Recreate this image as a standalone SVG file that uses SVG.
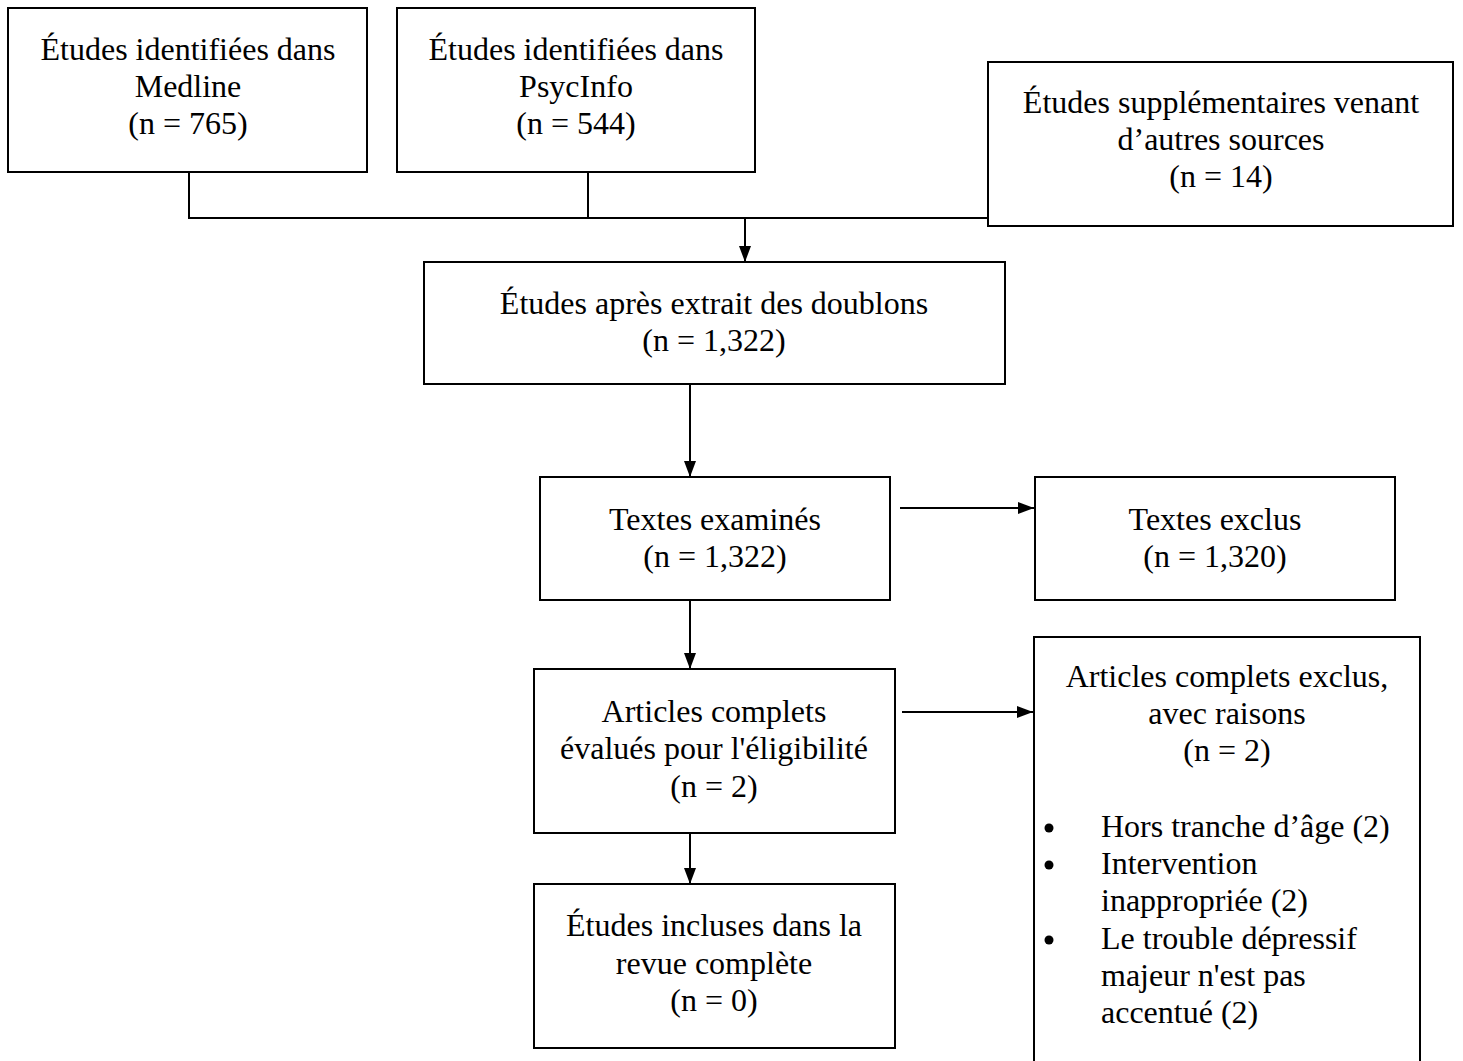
<svg xmlns="http://www.w3.org/2000/svg" width="1463" height="1061" viewBox="0 0 1463 1061">
<defs>
<marker id="ah" markerWidth="16" markerHeight="12" refX="16" refY="6" orient="auto" markerUnits="userSpaceOnUse">
<path d="M0,0 L16,6 L0,12 Z" fill="#000"/>
</marker>
<style>
.box{fill:#fff;stroke:#000;stroke-width:2}
.t{font-family:"Liberation Serif","Times New Roman",serif;font-size:32px;fill:#000;text-anchor:middle}
.tl{font-family:"Liberation Serif","Times New Roman",serif;font-size:32px;fill:#000}
.c{fill:none;stroke:#000;stroke-width:2}
.a{fill:none;stroke:#000;stroke-width:2;marker-end:url(#ah)}
</style>
</defs>
<rect width="1463" height="1061" fill="#fff"/>
<g id="connectors">
<polyline class="c" points="189,172 189,218 988,218"/>
<line class="c" x1="588" y1="172" x2="588" y2="218"/>
<line class="a" x1="745" y1="218" x2="745" y2="262"/>
<line class="a" x1="690" y1="384" x2="690" y2="477"/>
<line class="a" x1="900" y1="508" x2="1034" y2="508"/>
<line class="a" x1="690" y1="600" x2="690" y2="669"/>
<line class="a" x1="902" y1="712" x2="1033" y2="712"/>
<line class="a" x1="690" y1="826" x2="690" y2="884"/>
</g>
<g id="medline">
<rect class="box" x="8" y="8" width="359" height="164"/>
<text class="t" x="188" y="60">Études identifiées dans</text>
<text class="t" x="188" y="97">Medline</text>
<text class="t" x="188" y="134">(n = 765)</text>
</g>
<g id="psycinfo">
<rect class="box" x="397" y="8" width="358" height="164"/>
<text class="t" x="576" y="60">Études identifiées dans</text>
<text class="t" x="576" y="97">PsycInfo</text>
<text class="t" x="576" y="134">(n = 544)</text>
</g>
<g id="autres">
<rect class="box" x="988" y="62" width="465" height="164"/>
<text class="t" x="1221" y="113">Études supplémentaires venant</text>
<text class="t" x="1221" y="150">d’autres sources</text>
<text class="t" x="1221" y="187">(n = 14)</text>
</g>
<g id="doublons">
<rect class="box" x="424" y="262" width="581" height="122"/>
<text class="t" x="714" y="314">Études après extrait des doublons</text>
<text class="t" x="714" y="351">(n = 1,322)</text>
</g>
<g id="examines">
<rect class="box" x="540" y="477" width="350" height="123"/>
<text class="t" x="715" y="530">Textes examinés</text>
<text class="t" x="715" y="567">(n = 1,322)</text>
</g>
<g id="exclus">
<rect class="box" x="1035" y="477" width="360" height="123"/>
<text class="t" x="1215" y="530">Textes exclus</text>
<text class="t" x="1215" y="567">(n = 1,320)</text>
</g>
<g id="eligibilite">
<rect class="box" x="534" y="669" width="361" height="164"/>
<text class="t" x="714" y="722">Articles complets</text>
<text class="t" x="714" y="759">évalués pour l'éligibilité</text>
<text class="t" x="714" y="797">(n = 2)</text>
</g>
<g id="raisons">
<path class="box" d="M1034,1061 L1034,637 L1420,637 L1420,1061"/>
<text class="t" x="1227" y="687">Articles complets exclus,</text>
<text class="t" x="1227" y="724">avec raisons</text>
<text class="t" x="1227" y="761">(n = 2)</text>
<circle cx="1049" cy="828" r="4.5" fill="#000"/>
<circle cx="1049" cy="865" r="4.5" fill="#000"/>
<circle cx="1049" cy="940" r="4.5" fill="#000"/>
<text class="tl" x="1101" y="837">Hors tranche d’âge (2)</text>
<text class="tl" x="1101" y="874">Intervention</text>
<text class="tl" x="1101" y="911">inappropriée (2)</text>
<text class="tl" x="1101" y="949">Le trouble dépressif</text>
<text class="tl" x="1101" y="986">majeur n'est pas</text>
<text class="tl" x="1101" y="1023">accentué (2)</text>
</g>
<g id="incluses">
<rect class="box" x="534" y="884" width="361" height="164"/>
<text class="t" x="714" y="936">Études incluses dans la</text>
<text class="t" x="714" y="974">revue complète</text>
<text class="t" x="714" y="1011">(n = 0)</text>
</g>
</svg>
